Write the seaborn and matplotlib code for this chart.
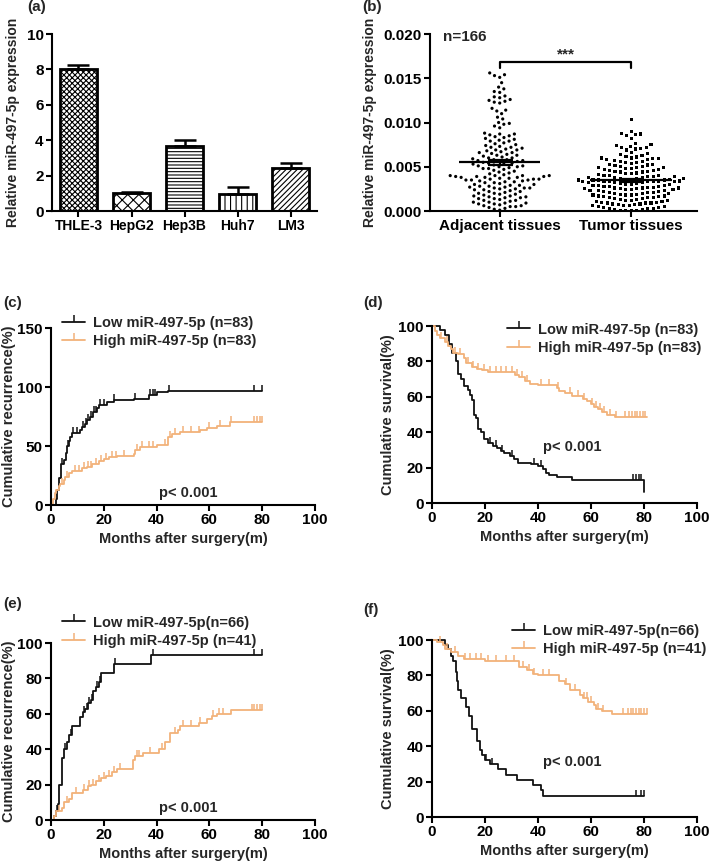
import numpy as np
import pandas as pd
import matplotlib
matplotlib.use("Agg")
import matplotlib.pyplot as plt
from matplotlib.lines import Line2D
import seaborn as sns

# (a) miR-497-5p in cell lines
cell_lines = ["THLE-3", "HepG2", "Hep3B", "Huh7", "LM3"]
cell_expr = [8.05, 1.02, 3.65, 0.97, 2.43]
cell_err = [0.22, 0.08, 0.38, 0.40, 0.28]
cell_hatches = ["xxxxxx", "xxx", "-----", "|||", "//////"]

# (b) tissues, values in units of 1e-3
tissue_groups = ["Adjacent tissues", "Tumor tissues"]
adjacent_x1000 = [
    15.6, 15.4, 15.3, 15.1, 14.5, 14.0, 13.8, 13.5, 13.4, 13.0, 12.9, 12.8, 12.6, 12.5,
    12.4, 12.3, 12.2, 11.6, 11.4, 11.3, 11.0, 10.6, 10.4, 10.0, 9.9, 9.8, 9.6, 9.4,
    8.8, 8.7, 8.7, 8.6, 8.5, 8.4, 8.3, 8.2, 8.1, 8.0, 7.9, 7.9, 7.7, 7.6, 7.5, 7.4,
    7.3, 7.2, 7.1, 7.0, 6.9, 6.8, 6.7, 6.6, 6.5, 6.4, 6.3, 6.2, 6.1, 6.0,
    5.9, 5.8, 5.8, 5.7, 5.6, 5.6, 5.5, 5.4, 5.3, 5.3, 5.2, 5.1, 5.0, 5.0, 4.9, 4.8,
    4.7, 4.6, 4.5, 4.4,
    4.1, 4.0, 4.0, 4.0, 3.9, 3.9, 3.9, 3.8, 3.8, 3.7, 3.7, 3.6, 3.6, 3.5, 3.5, 3.4,
    3.4, 3.3, 3.3, 3.2, 3.1, 3.0, 3.0, 2.9, 2.9, 2.8, 2.8, 2.7, 2.7, 2.6, 2.6, 2.5,
    2.5, 2.4, 2.3, 2.2, 2.1, 2.0, 2.0, 1.9,
    1.8, 1.7, 1.7, 1.6, 1.5, 1.5, 1.4, 1.3, 1.2, 1.2, 1.1, 1.0, 1.0, 0.9, 0.8, 0.8,
    0.7, 0.6, 0.6, 0.5, 0.5, 0.4, 0.3, 0.2, 0.1,
    4.0, 3.8, 3.5, 2.6, 2.2, 1.6, 7.2, 6.9, 6.6, 6.3, 6.0, 5.7, 5.4, 5.1, 4.8, 4.3,
    4.2, 3.6, 3.2, 2.4, 1.9, 1.4, 0.9,
]
tumor_x1000 = [
    10.3, 9.0, 8.8, 8.7, 8.6, 8.5, 8.2, 7.6, 7.5, 7.4, 7.3, 7.2, 7.2, 7.1, 7.0, 6.9,
    6.6, 6.5, 6.4, 6.3, 6.2, 6.1, 6.0, 6.0, 5.9, 5.9, 5.8, 5.7, 5.6, 5.5, 5.5, 5.4,
    5.3, 5.2, 5.1, 5.0,
    4.9, 4.9, 4.8, 4.8, 4.7, 4.7, 4.6, 4.5, 4.5, 4.4, 4.3, 4.2, 4.1, 4.0, 4.0, 3.9,
    3.9, 3.8, 3.8, 3.7,
    3.7, 3.6, 3.6, 3.5, 3.5, 3.4, 3.4, 3.3, 3.3, 3.2, 3.2, 3.1, 3.0, 3.0, 2.9, 2.9,
    2.8, 2.8, 2.7, 2.7,
    2.6, 2.6, 2.5, 2.5, 2.4, 2.4, 2.3, 2.3, 2.2, 2.2, 2.1, 2.1, 2.0, 2.0, 1.9, 1.9,
    1.8, 1.8, 1.7, 1.7,
    1.6, 1.6, 1.5, 1.5, 1.4, 1.4, 1.3, 1.3, 1.2, 1.2, 1.1, 1.1, 1.0, 1.0, 0.9, 0.9,
    0.8, 0.8, 0.7, 0.7,
    0.6, 0.6, 0.5, 0.5, 0.4, 0.4, 0.3, 0.3, 0.2, 0.2, 0.1, 0.1, 0.05, 0.05,
    5.8, 5.6, 5.3, 5.0, 4.9, 4.6, 4.4, 4.2, 4.0, 3.9, 3.8, 3.7, 3.6, 3.5, 3.5, 3.4,
    3.4, 3.3, 3.3, 3.2, 3.1, 3.0, 2.9, 2.8, 2.6, 2.5, 2.4, 2.3, 2.1, 2.0, 1.8, 1.5,
    1.2, 0.9, 0.6, 0.3,
]

# (c) recurrence, n=83 each
c_low_t = [0, 2, 2.3, 2.9, 3.9, 4.8, 5.7, 6.1, 6.9, 7.3, 7.9, 11.1, 11.7, 13, 13.6, 14.9,
           16.1, 17.4, 18, 21.2, 23.7, 31.3, 37, 40.1, 44.5, 80]
c_low_y = [0, 5, 13, 23, 35, 38, 44, 50, 54, 58, 61, 64, 66, 69, 72, 75, 79, 82, 85, 87,
           89, 90, 93, 96, 97, 97]
c_low_cens = [4.2, 6.6, 8.3, 9.8, 12, 13.3, 14.2, 15.2, 16.3, 17, 18.5, 20, 24, 31.8,
              37.5, 38.5, 39.5, 44.8, 77, 80]
c_high_t = [0, 0.8, 1.4, 2, 2.9, 3.5, 4.8, 5.4, 6.7, 7.9, 11.7, 13.6, 15.5, 18, 19.9,
            21.8, 25, 31.3, 31.9, 33.8, 40.1, 44.5, 45.8, 48.9, 56.5, 59, 62.8, 67.8, 80]
c_high_y = [0, 5, 10, 13, 16, 18, 21, 24, 27, 29, 31, 32.5, 34.5, 37, 39, 40.5, 41.5, 43,
            47, 49.5, 51, 58, 60, 62, 63.5, 65, 67, 70, 70]
c_high_cens = [4, 6, 9, 10.5, 12.5, 14, 15, 17, 19, 21, 23, 24.5, 27.5, 32.5, 34.5, 37,
               38.5, 43, 45, 47, 50, 53, 56, 60, 64, 68, 77, 78, 79, 80]

# (d) survival, n=83 each
d_low_t = [0, 3, 5, 6.5, 7.5, 9, 10, 11, 12, 13.5, 14.5, 15, 16, 16.5, 17.5, 18.5, 19.5,
           21, 23, 24.5, 26, 27, 29.5, 31, 32.5, 37.5, 40, 42, 43, 44, 47, 53, 80]
d_low_y = [100, 98, 95, 90, 85, 80, 73, 70, 66, 64, 61, 58, 50, 48, 42, 40, 36, 34, 32.5,
           31, 29.5, 28, 26.5, 25, 22.5, 22, 21, 19, 17, 16, 14.5, 13, 6.5]
d_low_cens = [22, 24, 26.5, 30, 38.5, 41, 76, 77, 78, 79]
d_high_t = [0, 1, 2, 3, 5, 6, 7, 8, 10, 12, 13, 15, 17, 19, 21, 31.5, 33, 35, 37, 40, 47,
            48, 50, 53, 57, 58.5, 60, 61, 62.5, 64, 66, 69, 81]
d_high_y = [100, 97, 95, 93, 91, 89, 87, 85, 84, 82, 79, 77, 76, 75, 74, 72.5, 71, 69,
            67.5, 66.5, 65, 63.5, 62, 60.5, 59, 57.5, 56, 54.5, 53, 51.5, 50, 48.5, 48.5]
d_high_cens = [3.5, 5.5, 8.5, 10.5, 13.5, 15.5, 17.5, 19.5, 22, 24, 26, 28, 30, 32, 34,
               36, 41, 44, 47.5, 52, 55, 57.5, 60.5, 62, 63.5, 65, 67, 69.5, 73, 74.5,
               75.5, 76.5, 77.5, 78.5, 79.5, 80.5]

# (e) recurrence, n=66 / n=41
e_low_t = [0, 1, 2, 2.5, 3, 4, 5, 6, 7, 8, 11, 12, 13, 14, 15, 16, 17, 18, 19, 24, 38, 80]
e_low_y = [0, 2, 5, 9, 20, 35, 40, 44, 48, 53, 58, 61, 63, 66, 68, 73, 75, 78, 83, 88,
           93, 93]
e_low_cens = [2.2, 5.5, 7.5, 12.5, 13.5, 14.5, 15.5, 17.5, 18.5, 24.3, 38.8, 77, 80]
e_high_t = [0, 1, 2, 4, 5, 7, 8, 12, 14, 15, 17, 19, 21, 23, 25, 31, 32, 35, 41, 43, 45,
            48, 49, 56, 59, 61, 63, 68, 80]
e_high_y = [0, 2, 5, 7, 10, 12, 15, 17, 19, 20, 22, 24, 25, 27, 29, 34, 36, 38, 40, 44,
            49, 51, 53, 55, 57, 59, 60, 62, 62]
e_high_cens = [3, 6, 9.5, 12.5, 14.5, 16, 18, 20, 22, 24, 26, 32.5, 33.5, 37.5, 42, 47,
               50, 53, 56.5, 61.5, 63.5, 65, 76, 77, 78, 79, 80]

# (f) survival, n=66 / n=41
f_low_t = [0, 5, 6, 7, 8, 9, 9.5, 10, 11, 13, 14, 15, 17, 18, 19, 20, 22, 25, 28, 32, 38,
           41, 42, 80]
f_low_y = [100, 97, 95, 91, 88, 82, 77, 72, 67, 62, 57, 50, 43, 38, 35, 32, 30, 27, 24,
           21, 18, 15, 12, 12]
f_low_cens = [20.5, 22.5, 77, 79, 80]
f_high_t = [0, 2, 4, 5, 7, 10, 12, 20, 33, 36, 38, 40, 48, 50, 52, 56, 57, 59, 61, 62, 64,
            68, 81]
f_high_y = [100, 99, 97, 95, 93, 91, 89, 88, 85, 83, 81, 80, 77, 75, 72, 69, 67, 65, 63,
            61, 60, 58, 58]
f_high_cens = [3, 5.5, 8.5, 12.5, 14.5, 16.5, 18.5, 21, 24, 28, 31, 34.5, 36.5, 38.5, 42,
               44, 50.5, 54, 57.5, 58.5, 60, 62.5, 64.5, 72, 74, 75, 76, 77, 78, 79, 80, 81]

BLACK = "#111111"
ORANGE = "#F2B27A"

sns.set_style("ticks")
plt.rcParams["font.family"] = ["Liberation Sans", "DejaVu Sans"]
plt.rcParams["font.weight"] = "bold"
plt.rcParams["axes.labelweight"] = "bold"
plt.rcParams["axes.linewidth"] = 1.5
plt.rcParams["xtick.major.width"] = 1.5
plt.rcParams["ytick.major.width"] = 1.5
plt.rcParams["xtick.major.size"] = 4
plt.rcParams["ytick.major.size"] = 4
plt.rcParams["xtick.color"] = "black"
plt.rcParams["ytick.color"] = "black"
plt.rcParams["axes.edgecolor"] = "black"
plt.rcParams["hatch.linewidth"] = 0.8

fig = plt.figure(figsize=(7.09, 8.63), dpi=100)


def style_axes(ax):
    sns.despine(ax=ax)
    ax.tick_params(labelsize=11, pad=2)


# ---------- (a) ----------
ax_a = fig.add_axes([0.0733, 0.7555, 0.374, 0.2051])
sns.barplot(x=cell_lines, y=cell_expr, color="white", edgecolor="black", linewidth=2,
            width=0.7, ax=ax_a, errorbar=None)
for patch, h in zip(ax_a.patches, cell_hatches):
    patch.set_hatch(h)
ax_a.errorbar(range(len(cell_lines)), cell_expr, yerr=[[0] * len(cell_err), cell_err],
              fmt="none", ecolor="black", elinewidth=1.8, capsize=8, capthick=1.8, zorder=1)
ax_a.set_ylim(0, 10)
ax_a.set_yticks([0, 2, 4, 6, 8, 10])
ax_a.set_xlim(-0.5, 4.5)
ax_a.set_ylabel("Relative miR-497-5p expression", fontsize=10)
ax_a.yaxis.set_label_coords(-0.121, 0.5)
style_axes(ax_a)
ax_a.tick_params(axis="x", labelsize=10)

# ---------- (b) ----------
ax_b = fig.add_axes([0.6065, 0.7555, 0.3766, 0.2051])
adj_vals = np.array(adjacent_x1000) / 1000
tum_vals = np.array(tumor_x1000) / 1000
df_adj = pd.DataFrame({"group": tissue_groups[0], "value": adj_vals})
df_tum = pd.DataFrame({"group": tissue_groups[1], "value": tum_vals})
# transparent edge widens the swarm spacing without enlarging the dots
sns.swarmplot(data=df_adj, x="group", y="value", order=tissue_groups, marker="o",
              size=2.3, color="black", edgecolor="none", linewidth=1.5, ax=ax_b)
sns.swarmplot(data=df_tum, x="group", y="value", order=tissue_groups, marker="s",
              size=2.3, color="black", edgecolor="none", linewidth=1.5, ax=ax_b)
for i, vals in enumerate([adj_vals, tum_vals]):
    m = vals.mean()
    sem = vals.std(ddof=1) / np.sqrt(len(vals))
    ax_b.hlines(m, i - 0.31, i + 0.31, color="black", lw=1.6, zorder=5)
    ax_b.errorbar(i, m, yerr=sem, fmt="none", ecolor="black", elinewidth=1.6,
                  capsize=9, capthick=1.6, zorder=5)
ax_b.plot([0, 0, 1, 1], [0.0162, 0.0168, 0.0168, 0.0162], color="black", lw=1.6)
ax_b.text(0.5, 0.0169, "***", ha="center", va="bottom", fontsize=11, fontweight="bold")
ax_b.text(0.13, 0.985, "n=166", transform=ax_b.transAxes, ha="center", va="center",
          fontsize=11, fontweight="bold")
ax_b.set_xlim(-0.53, 1.5)
ax_b.set_ylim(0, 0.020)
ax_b.set_yticks([0, 0.005, 0.010, 0.015, 0.020])
ax_b.set_yticklabels(["0.000", "0.005", "0.010", "0.015", "0.020"])
ax_b.set_xlabel("")
ax_b.set_ylabel("Relative miR-497-5p expression", fontsize=10)
ax_b.yaxis.set_label_coords(-0.199, 0.5)
style_axes(ax_b)


# ---------- KM panels ----------
def step_at(t, y, pts):
    idx = np.searchsorted(t, pts, side="right") - 1
    return np.asarray(y)[idx]


def km_panel(rect, low, high, labels, ylabel, ymax, yticks, ptxt, leg_anchor, ylab_x):
    ax = fig.add_axes(rect)
    for (t, y, cens), col in zip([low, high], [BLACK, ORANGE]):
        sns.lineplot(x=t, y=y, drawstyle="steps-post", color=col, lw=1.3,
                     estimator=None, sort=False, ax=ax, clip_on=False)
        ax.plot(cens, step_at(t, y, cens), linestyle="none", marker=2, markersize=4.5,
                markeredgewidth=1.1, color=col, clip_on=False)
    ax.set_xlim(0, 100)
    ax.set_ylim(0, ymax)
    ax.set_xticks([0, 20, 40, 60, 80, 100])
    ax.set_yticks(yticks)
    ax.set_xlabel("Months after surgery(m)", fontsize=10.5, labelpad=3)
    ax.set_ylabel(ylabel, fontsize=10.5)
    ax.yaxis.set_label_coords(ylab_x, 0.5)
    ax.text(ptxt[0], ptxt[1], "p< 0.001", ha="center", va="center", fontsize=10.5,
            fontweight="bold")
    handles = [Line2D([0], [0], color=c, lw=1.3, marker=2, markersize=5,
                      markeredgewidth=1.1) for c in [BLACK, ORANGE]]
    ax.legend(handles, labels, loc="upper left", bbox_to_anchor=leg_anchor, frameon=False,
              fontsize=10.5, handlelength=1.6, handletextpad=0.5, borderpad=0,
              borderaxespad=0, labelspacing=0.3, numpoints=1)
    style_axes(ax)
    return ax


labels_83 = ["Low miR-497-5p (n=83)", "High miR-497-5p (n=83)"]
labels_66 = ["Low miR-497-5p(n=66)", "High miR-497-5p (n=41)"]

km_panel([0.0719, 0.4148, 0.3724, 0.2051], (c_low_t, c_low_y, c_low_cens),
         (c_high_t, c_high_y, c_high_cens), labels_83, "Cumulative recurrence(%)",
         150, [0, 50, 100, 150], (52, 10), (0.042, 1.07), -0.133)
km_panel([0.6093, 0.4171, 0.3738, 0.2051], (d_low_t, d_low_y, d_low_cens),
         (d_high_t, d_high_y, d_high_cens), labels_83, "Cumulative survival(%)",
         100, [0, 20, 40, 60, 80, 100], (53, 31.5), (0.283, 1.02), -0.14)
km_panel([0.0719, 0.0498, 0.3724, 0.2051], (e_low_t, e_low_y, e_low_cens),
         (e_high_t, e_high_y, e_high_cens), labels_66, "Cumulative recurrence(%)",
         100, [0, 20, 40, 60, 80, 100], (52, 7), (0.042, 1.155), -0.133)
km_panel([0.6093, 0.0533, 0.3738, 0.2051], (f_low_t, f_low_y, f_low_cens),
         (f_high_t, f_high_y, f_high_cens), labels_66, "Cumulative survival(%)",
         100, [0, 20, 40, 60, 80, 100], (53, 31), (0.302, 1.09), -0.14)

# panel letters
for lbl, x, y in [("(a)", 27, 7), ("(b)", 362, 7), ("(c)", 3, 303), ("(d)", 363, 303),
                  ("(e)", 3, 604), ("(f)", 363, 610)]:
    fig.text(x / 709, 1 - y / 863, lbl, ha="left", va="center", fontsize=11,
             fontweight="bold")

fig.savefig("out.png", dpi=100)
